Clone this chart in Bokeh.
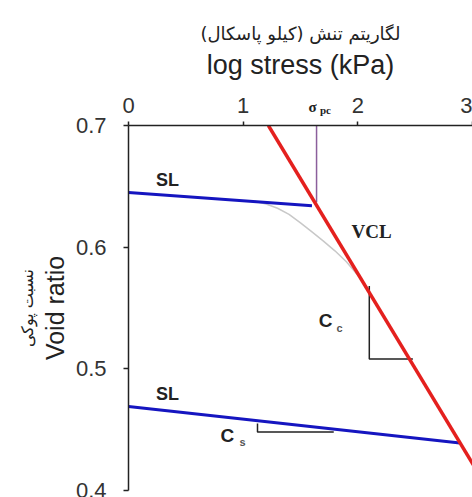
from bokeh.plotting import figure
from bokeh.models import Range1d, FixedTicker, Title, Label
from bokeh.core.properties import value
from bokeh.embed import file_html
from bokeh.resources import INLINE

# ---- data ----
x_ticks = [0, 1, 2, 3]
y_ticks = [0.4, 0.5, 0.6, 0.7]

sl_upper_x = [0.0, 1.60]
sl_upper_y = [0.645, 0.634]
sl_lower_x = [0.0, 2.89]
sl_lower_y = [0.469, 0.439]
vcl_x = [1.22, 3.05]
vcl_y = [0.700, 0.4145]
curve_x = [1.10, 1.20, 1.30, 1.40, 1.50, 1.60, 1.70, 1.80, 1.90, 2.00, 2.06]
curve_y = [0.6378, 0.6355, 0.632, 0.627, 0.620, 0.6125, 0.605, 0.597, 0.588, 0.577, 0.569]
sigma_pc = 1.64
sigma_line_y = [0.700, 0.637]
cc_tri_x = [2.10, 2.10, 2.48]
cc_tri_y = [0.568, 0.508, 0.508]
cs_tri_x = [1.125, 1.125, 1.79]
cs_tri_y = [0.455, 0.448, 0.448]

sl_label_x = [0.34, 0.34]
sl_label_y = [0.6556, 0.479]

p = figure(width=472, height=497, output_backend="svg", toolbar_location=None,
           x_range=Range1d(0, 3), y_range=Range1d(0.4, 0.7),
           x_axis_location="above", min_border_left=128, min_border_top=125,
           min_border_right=0, min_border_bottom=7)
p.outline_line_color = None
p.grid.visible = False
p.background_fill_color = "white"
p.border_fill_color = "white"

for ax in (p.xaxis[0], p.yaxis[0]):
    ax.axis_line_width = 1.5
    ax.axis_line_color = "#222222"
    ax.major_tick_line_color = "#222222"
    ax.major_tick_line_width = 1.5
    ax.minor_tick_line_color = None
    ax.major_tick_in = 0
    ax.major_label_text_font = "Liberation Sans"
    ax.major_label_text_font_size = "22px"
    ax.major_label_text_color = "#333333"
    ax.axis_label_text_font = "Liberation Sans"
    ax.axis_label_text_font_style = "normal"
    ax.axis_label_text_font_size = "27px"
    ax.axis_label_text_color = "#222222"

p.xaxis.ticker = FixedTicker(ticks=x_ticks)
p.yaxis.ticker = FixedTicker(ticks=y_ticks)
p.xaxis.major_tick_out = 4
p.yaxis.major_tick_out = 5
p.xaxis.major_label_standoff = 9
p.yaxis.major_label_standoff = 17
p.xaxis.axis_label = "log stress (kPa)"
p.yaxis.axis_label = "Void ratio"
p.yaxis.axis_label_text_font_size = "25px"
p.xaxis.axis_label_standoff = 15
p.yaxis.axis_label_standoff = 4

p.add_layout(Title(text="لگاریتم تنش (کیلو پاسکال)", align="center", standoff=5,
                   text_font="DejaVu Sans", text_font_size="18px",
                   text_font_style="normal", text_color="#222222"), "above")
p.add_layout(Title(text="نسبت پوکی", align="center", standoff=2,
                   text_font="DejaVu Sans", text_font_size="16px",
                   text_font_style="normal", text_color="#222222"), "left")

# lines
p.line(curve_x, curve_y, line_color="#c8c8c8", line_width=1.5)
p.line([sigma_pc, sigma_pc], sigma_line_y, line_color="#8b5f9c", line_width=1.5)
p.line(sl_upper_x, sl_upper_y, line_color="#1515c0", line_width=3)
p.line(sl_lower_x, sl_lower_y, line_color="#1515c0", line_width=3)
p.line(cc_tri_x, cc_tri_y, line_color="#222222", line_width=1.5)
p.line(cs_tri_x, cs_tri_y, line_color="#222222", line_width=1.5)
p.line(vcl_x, vcl_y, line_color="#e4201e", line_width=3.5)

# labels
p.text(sl_label_x, sl_label_y, text=["SL", "SL"], text_font=value("Liberation Sans"),
       text_font_style="bold", text_font_size="18px", text_color="#222222",
       text_align="center", text_baseline="middle")
p.text([2.12], [0.613], text=["VCL"], text_font=value("Liberation Serif"),
       text_font_style="bold", text_font_size="19px", text_color="#222222",
       text_align="center", text_baseline="middle")
p.text([1.72, 0.863], [0.540, 0.4453], text=["C", "C"], text_font=value("Liberation Sans"),
       text_font_style="bold", text_font_size="19px", text_color="#222222",
       text_align="center", text_baseline="middle")
p.text([1.84, 0.994], [0.5335, 0.4395], text=["c", "s"], text_font=value("Liberation Sans"),
       text_font_style="bold", text_font_size="11px", text_color="#555555",
       text_align="center", text_baseline="middle")

# sigma_pc label sits above the frame, so it lives in side panels (not clipped)
p.add_layout(Label(x=1.605, y=0.7152, text="σ", text_font="Liberation Serif",
                   text_font_style="bold", text_font_size="15px", text_color="#222222",
                   text_align="center", text_baseline="middle"), "above")
p.add_layout(Label(x=1.718, y=0.7131, text="pc", text_font="Liberation Serif",
                   text_font_style="bold", text_font_size="11px", text_color="#222222",
                   text_align="center", text_baseline="middle"), "left")

open("out.html", "w").write(file_html(p, INLINE))
